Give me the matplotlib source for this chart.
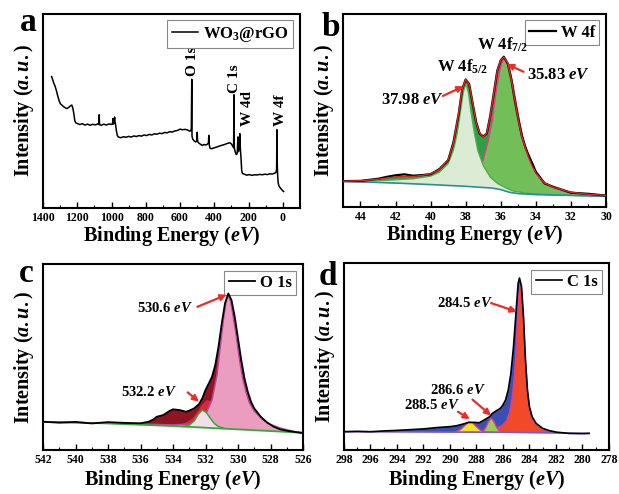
import numpy as np
import matplotlib
matplotlib.use("Agg")
import matplotlib.pyplot as plt
from matplotlib.ticker import MultipleLocator

plt.rcParams['font.family'] = 'Liberation Serif'
plt.rcParams['font.weight'] = 'bold'
plt.rcParams['axes.labelweight'] = 'bold'
plt.rcParams['mathtext.fontset'] = 'custom'
plt.rcParams['mathtext.rm'] = 'Liberation Serif:bold'
plt.rcParams['mathtext.it'] = 'Liberation Serif:italic:bold'
plt.rcParams['mathtext.bf'] = 'Liberation Serif:bold'

# ---- (a) survey spectrum ----
survey_x = [1350, 1345, 1338, 1330, 1322, 1315, 1305, 1298, 1290, 1280,
            1270, 1260, 1250, 1240, 1232, 1226, 1220, 1214, 1208, 1200,
            1185, 1170, 1155, 1140, 1125, 1110, 1095, 1080, 1074, 1072,
            1070, 1060, 1045, 1030, 1015, 1000, 994, 992, 990, 985,
            982, 980, 977, 972, 966, 960, 945, 930, 915, 900,
            885, 870, 855, 840, 825, 810, 795, 780, 765, 750,
            735, 720, 705, 690, 675, 660, 645, 630, 615, 600,
            585, 570, 555, 545, 537, 534, 531.5, 530, 526, 518,
            510, 503, 500, 497, 490, 480, 470, 460, 450, 440,
            434, 432, 430, 425, 415, 400, 385, 370, 355, 340,
            325, 310, 300, 292, 287, 285, 283, 278, 272, 266,
            262, 259, 255, 251, 248, 244, 240, 236, 225, 210,
            195, 180, 165, 150, 135, 120, 105, 90, 75, 60,
            48, 40, 36, 34, 32, 30, 27, 22, 15, 8,
            2, -5]
survey_y = [67.7, 66.5, 64.5, 62.8, 60.5, 58.0, 55.0, 53.6, 53.0, 52.2,
            51.6, 51.2, 51.8, 52.6, 53.0, 51.5, 48.5, 44.8, 43.8, 43.5,
            43.0, 43.4, 42.7, 43.2, 42.6, 43.1, 42.8, 43.3, 43.0, 48.0,
            42.9, 42.6, 43.2, 42.7, 43.3, 43.0, 43.5, 46.0, 43.2, 43.6,
            46.8, 44.5, 43.4, 40.0, 37.3, 36.5, 36.2, 36.7, 36.4, 36.9,
            36.5, 37.1, 36.8, 37.3, 37.0, 37.6, 37.3, 37.9, 37.6, 38.2,
            38.0, 38.5, 38.3, 38.9, 38.7, 39.3, 39.1, 39.7, 39.9, 40.6,
            40.3, 40.5, 40.1, 39.6, 39.8, 41.0, 66.3, 37.0, 35.5, 34.6,
            34.0, 34.4, 39.0, 34.2, 33.4, 32.8, 32.2, 32.7, 32.4, 32.9,
            33.5, 37.4, 33.0, 30.8, 30.5, 31.0, 31.4, 31.9, 32.3, 32.7,
            33.2, 33.6, 33.0, 31.8, 31.0, 58.3, 31.0, 29.0, 27.5, 28.0,
            36.6, 29.0, 31.0, 38.3, 31.0, 26.0, 19.5, 17.8, 17.4, 16.9,
            17.2, 16.8, 17.1, 17.0, 17.3, 17.1, 17.4, 17.2, 17.6, 17.5,
            17.9, 18.3, 20.0, 40.3, 22.0, 17.0, 13.0, 11.2, 10.4, 9.6,
            9.0, 8.5]
survey_labels = ['O 1s', 'C 1s', 'W 4d', 'W 4f']
survey_label_x = [528, 284, 206, 14]
survey_label_y = [68, 59, 42, 42]

# ---- (b) W 4f ----
w_x = [45, 44, 43, 42.5, 42, 41.5, 41, 40.5, 40, 39.5,
       39, 38.7, 38.4, 38.2, 38.0, 37.8, 37.6, 37.4, 37.2, 37.0,
       36.8, 36.6, 36.4, 36.2, 36.0, 35.83, 35.6, 35.4, 35.2, 35.0,
       34.8, 34.6, 34.4, 34.2, 34.0, 33.5, 33.0, 32.0, 31.0, 30.0]
w_env = [13.3, 13.6, 14.4, 15.0, 15.6, 15.9, 15.8, 16.3, 17.2, 19.3,
         24.5, 33.0, 48.6, 60.7, 66.2, 63.3, 53.8, 43.4, 38.3, 36.2,
         38.3, 46.9, 59.0, 70.2, 76.2, 77.6, 74.5, 65.9, 55.5, 45.2,
         36.6, 30.5, 25.3, 21.0, 17.6, 12.4, 10.2, 7.6, 6.6, 6.0]
w_raw = [13.4, 13.5, 14.6, 15.6, 16.4, 16.9, 16.2, 16.5, 17.0, 19.6,
         24.2, 33.4, 48.2, 61.0, 66.0, 63.6, 53.5, 43.8, 38.0, 36.5,
         38.0, 47.2, 58.7, 70.5, 76.0, 77.8, 74.2, 66.2, 55.2, 45.6,
         36.9, 31.0, 26.5, 22.5, 18.2, 12.2, 10.4, 7.4, 6.8, 5.9]
w_bg_x = [45, 42, 40, 38, 36.5, 36, 35.5, 35, 34, 32, 30]
w_bg_y = [13.3, 12.4, 11.6, 10.7, 9.8, 9.0, 7.6, 6.9, 6.4, 6.0, 5.5]
w52_x = [45, 43, 41, 40, 39.5, 39.0, 38.7, 38.5, 38.3, 38.15, 38.0, 37.85,
         37.7, 37.5, 37.3, 37.0, 36.6, 36.2, 35.8, 35.3, 34.5, 33, 30]
w52_y = [13.3, 13.6, 14.6, 16.0, 18.0, 22.5, 29.5, 37.5, 49.5, 59.0, 64.0, 59.5,
         49.5, 38.0, 29.0, 21.5, 15.5, 12.3, 10.3, 8.3, 7.1, 6.2, 5.6]
w72_x = [45, 42, 40, 39, 38.5, 38, 37.6, 37.3, 37.0, 36.7,
         36.5, 36.3, 36.1, 35.95, 35.83, 35.7, 35.5, 35.3, 35.1, 34.9,
         34.7, 34.5, 34.2, 34.0, 33.5, 33.0, 32.0, 31.0, 30.0]
w72_y = [13.3, 12.6, 12.0, 11.6, 12.0, 13.2, 15.5, 19.0, 24.5, 35.0,
         44.0, 58.0, 69.0, 74.5, 76.5, 76.0, 71.5, 62.5, 52.5, 42.5,
         34.5, 28.5, 21.5, 17.8, 12.5, 10.1, 7.6, 6.6, 6.0]

# ---- (c) O 1s ----
o_x = [542, 541, 540, 539, 538, 537, 536, 535.5, 535.2, 535.0,
       534.6, 534.2, 534.0, 533.6, 533.2, 533.0, 532.7, 532.4, 532.2, 532.0,
       531.8, 531.6, 531.4, 531.2, 531.0, 530.8, 530.6, 530.4, 530.2, 530.0,
       529.8, 529.6, 529.4, 529.2, 529.0, 528.6, 528.2, 527.8, 527.4, 527.0,
       526.5, 526.0]
o_raw = [15.2, 14.7, 15.1, 14.3, 15.0, 14.6, 14.4, 15.2, 16.5, 17.9,
         18.8, 21.1, 21.9, 21.5, 20.6, 21.2, 22.4, 24.7, 27.8, 32.3,
         35.8, 39.4, 45.7, 55.6, 68.1, 78.9, 84.2, 80.6, 71.7, 60.0,
         48.4, 38.5, 31.4, 26.0, 22.4, 17.9, 14.7, 12.5, 11.1, 10.4,
         9.7, 9.1]
o_bg_x = [542, 538, 534, 532, 530, 528, 526]
o_bg_y = [15.2, 14.3, 12.9, 12.0, 11.1, 10.2, 9.3]
o_mid_x = [534.0, 533.6, 533.2, 532.8, 532.5, 532.2, 531.9, 531.6, 531.3, 531.0,
           530.6, 530.2, 529.8]
o_mid_y = [12.9, 13.5, 14.8, 17.0, 20.5, 24.5, 27.0, 26.0, 22.0, 17.5,
           14.5, 12.5, 11.4]
o_main_x = [542, 536, 534, 533, 532.4, 532.0, 531.6, 531.3, 531.1, 530.9,
            530.75, 530.6, 530.45, 530.3, 530.1, 529.9, 529.7, 529.5, 529.3, 529.0,
            528.5, 528.0, 527.4, 527.0, 526.5, 526.0]
o_main_y = [15.2, 14.0, 13.5, 14.0, 16.0, 19.0, 27.0, 40.0, 55.0, 70.0,
            79.0, 83.5, 80.0, 72.0, 61.0, 48.0, 38.0, 31.0, 25.5, 21.0,
            16.5, 13.8, 11.8, 10.9, 9.9, 9.3]
o_low_x = [533.4, 533.0, 532.7, 532.45, 532.2, 531.95, 531.7, 531.45, 531.2, 530.9]
o_low_y = [12.7, 13.4, 15.6, 19.2, 21.5, 20.2, 17.0, 14.2, 12.6, 11.8]

# ---- (d) C 1s ----
c_x = [298, 297, 296, 295, 294, 293, 292, 291, 290, 289.5,
       289, 288.6, 288.2, 287.8, 287.5, 287.2, 287.0, 286.8, 286.5, 286.2,
       286.0, 285.8, 285.6, 285.4, 285.2, 285.0, 284.85, 284.75, 284.6, 284.45,
       284.3, 284.15, 284.0, 283.8, 283.5, 283.0, 282.5, 282.0, 281.0, 280.0,
       279.5]
c_raw = [9.8, 10.0, 9.8, 10.2, 10.5, 10.9, 11.3, 12.0, 12.5, 13.0,
         13.9, 14.8, 14.8, 14.6, 15.7, 17.0, 17.9, 19.6, 21.0, 22.3,
         24.1, 26.8, 32.1, 41.0, 55.4, 75.0, 89.3, 92.0, 87.5, 71.4,
         48.2, 32.1, 23.2, 17.9, 14.3, 11.6, 10.4, 9.6, 8.9, 8.8,
         8.9]
c_bg_x = [298, 290, 286, 284, 280, 279.5]
c_bg_y = [9.8, 9.6, 9.5, 9.3, 8.9, 8.9]
c_main_x = [288.0, 287.0, 286.5, 286.0, 285.7, 285.5, 285.3, 285.1, 284.95, 284.8,
            284.7, 284.6, 284.45, 284.3, 284.15, 284.0, 283.8, 283.5, 283.0, 282.5,
            282.0]
c_main_y = [9.6, 10.5, 11.5, 13.5, 16.0, 20.0, 28.0, 42.0, 62.0, 84.0,
            89.0, 86.0, 70.0, 47.0, 31.0, 22.0, 17.0, 13.5, 11.0, 10.0,
            9.4]
c_288_x = [289.6, 289.2, 288.9, 288.6, 288.3, 288.0, 287.7, 287.4]
c_288_y = [9.7, 11.0, 13.0, 14.8, 14.6, 12.5, 10.6, 9.8]
c_287_x = [287.5, 287.3, 287.1, 286.9, 286.7, 286.5, 286.3, 286.0]
c_287_y = [10.0, 12.0, 15.0, 17.0, 15.5, 12.5, 10.5, 9.6]


def under(ax, x, y, bx, by, color, z, edge=None, lw=1.0):
    # polygon between a curve and the background points inside its range
    lo, hi = min(x), max(x)
    sel = [(a, b) for a, b in zip(bx, by) if lo < a < hi]
    px = list(x) + [a for a, b in sel][::-1]
    py = list(y) + [b for a, b in sel][::-1]
    ax.fill(px, py, color=color, lw=0, zorder=z)
    if edge is not None:
        ax.plot(x, y, color=edge, lw=lw, zorder=z + 0.5)


def style(ax, xlim, major, minor, xpad=0):
    ax.set_xlim(xlim)
    ax.set_ylim(0, 100)
    ax.xaxis.set_major_locator(MultipleLocator(major))
    ax.xaxis.set_minor_locator(MultipleLocator(minor))
    ax.tick_params(axis='x', which='both', direction='in', labelsize=8.5, pad=3)
    ax.tick_params(axis='x', which='major', length=4, width=1)
    ax.tick_params(axis='x', which='minor', length=2, width=0.8)
    ax.set_yticks([])
    for s in ax.spines.values():
        s.set_linewidth(1.5)
    ax.set_xlabel('Binding Energy ($eV$)', fontsize=14.5, labelpad=xpad)
    ax.set_ylabel('Intensity ($a.u.$)', fontsize=14.5, labelpad=5)


def leg(ax, fs=12):
    lg = ax.legend(loc='upper right', fontsize=fs, fancybox=False, edgecolor='#888888',
                   handlelength=1.6, handletextpad=0.3, borderpad=0.25,
                   borderaxespad=0.4, framealpha=1)
    lg.get_frame().set_linewidth(0.8)


def arrow(ax, tail, head):
    ax.annotate('', xy=head, xytext=tail,
                arrowprops=dict(arrowstyle='-|>', color='#ec2d27', lw=1.6,
                                mutation_scale=9, shrinkA=0, shrinkB=0), zorder=10)


fig = plt.figure(figsize=(6.19, 4.94), dpi=100)
ax1 = fig.add_axes([0.0695, 0.579, 0.415, 0.393])
ax2 = fig.add_axes([0.554, 0.581, 0.425, 0.391])
ax3 = fig.add_axes([0.0695, 0.089, 0.420, 0.3765])
ax4 = fig.add_axes([0.5557, 0.089, 0.428, 0.3785])

# (a)
ax1.plot(survey_x, survey_y, color='black', lw=1.1, label='WO$_3$@rGO')
for t, x, y in zip(survey_labels, survey_label_x, survey_label_y):
    ax1.text(x, y, t, rotation=90, ha='center', va='bottom', fontsize=11)
style(ax1, (1400, -100), 200, 100)
leg(ax1)

# (b)
under(ax2, w_x, w_env, w_bg_x, w_bg_y, '#2f9e44', 1)
under(ax2, w72_x, w72_y, w_bg_x, w_bg_y, '#72be58', 2, edge='#e0408a', lw=1.1)
under(ax2, w52_x, w52_y, w_bg_x, w_bg_y, '#dcebd4', 3, edge='#4cae4c', lw=1.0)
ax2.plot(w_bg_x, w_bg_y, color='#2b8f9a', lw=1.2, zorder=4)
ax2.plot(w_x, w_raw, color='black', lw=1.6, zorder=5, label='W 4f')
ax2.plot(w_x, w_env, color='#e02424', lw=1.0, zorder=6)
ax2.text(38.2, 68, 'W 4f$_{5/2}$', ha='center', va='bottom', fontsize=12, zorder=11)
ax2.text(35.9, 79, 'W 4f$_{7/2}$', ha='center', va='bottom', fontsize=12, zorder=11)
ax2.text(41.0, 55.5, '37.98 $eV$', ha='center', va='center', fontsize=12, zorder=11)
ax2.text(32.7, 68.4, '35.83 $eV$', ha='center', va='center', fontsize=12, zorder=11)
arrow(ax2, (39.3, 57.5), (38.12, 62.5))
arrow(ax2, (34.7, 70.0), (35.65, 74.0))
style(ax2, (45, 30), 2, 1)
leg(ax2)

# (c)
under(ax3, o_x, o_raw, o_bg_x, o_bg_y, '#8e1522', 1)
under(ax3, o_mid_x, o_mid_y, o_bg_x, o_bg_y, '#d8283f', 2)
under(ax3, o_main_x, o_main_y, o_bg_x, o_bg_y, '#eb9dbf', 3, edge='#b5489a', lw=1.1)
under(ax3, o_low_x, o_low_y, o_bg_x, o_bg_y, '#f7dde7', 4, edge='#34a83a', lw=1.1)
ax3.plot(o_bg_x, o_bg_y, color='#34a83a', lw=1.3, zorder=5)
ax3.plot(o_x, o_raw, color='black', lw=1.3, zorder=6, label='O 1s')
ax3.text(534.5, 76.5, '530.6 $eV$', ha='center', va='center', fontsize=10.5, zorder=11)
ax3.text(535.5, 31.0, '532.2 $eV$', ha='center', va='center', fontsize=10.5, zorder=11)
arrow(ax3, (532.5, 77.0), (530.7, 83.5))
arrow(ax3, (533.1, 31.0), (532.4, 26.0))
style(ax3, (542, 526), 2, 1, xpad=1)
leg(ax3)

# (d)
under(ax4, c_x, c_raw, c_bg_x, c_bg_y, '#3a4fb0', 1)
under(ax4, c_main_x, c_main_y, c_bg_x, c_bg_y, '#f24a28', 2, edge='#d0409a', lw=1.1)
under(ax4, c_288_x, c_288_y, c_bg_x, c_bg_y, '#f3e226', 3, edge='#d0409a', lw=1.0)
under(ax4, c_287_x, c_287_y, c_bg_x, c_bg_y, '#9ccc50', 3, edge='#d0409a', lw=1.0)
ax4.plot(c_bg_x, c_bg_y, color='#7a5ad0', lw=1.2, zorder=5)
ax4.plot(c_x, c_raw, color='black', lw=1.2, zorder=6, label='C 1s')
ax4.text(288.9, 78.6, '284.5 $eV$', ha='center', va='center', fontsize=10.5, zorder=11)
ax4.text(289.4, 32.0, '286.6 $eV$', ha='center', va='center', fontsize=10.5, zorder=11)
ax4.text(291.4, 24.0, '288.5 $eV$', ha='center', va='center', fontsize=10.5, zorder=11)
arrow(ax4, (286.9, 78.6), (284.95, 74.0))
arrow(ax4, (288.3, 27.0), (286.9, 18.5))
arrow(ax4, (289.4, 20.5), (288.5, 16.5))
style(ax4, (298, 278), 2, 1, xpad=1)
leg(ax4)

# panel letters
fig.text(28 / 619, 1 - 31 / 494, 'a', ha='center', va='baseline', fontsize=24)
fig.text(331 / 619, 1 - 36 / 494, 'b', ha='center', va='baseline', fontsize=24)
fig.text(26 / 619, 1 - 282 / 494, 'c', ha='center', va='baseline', fontsize=24)
fig.text(328 / 619, 1 - 285 / 494, 'd', ha='center', va='baseline', fontsize=24)

fig.savefig('out.png', dpi=100)
